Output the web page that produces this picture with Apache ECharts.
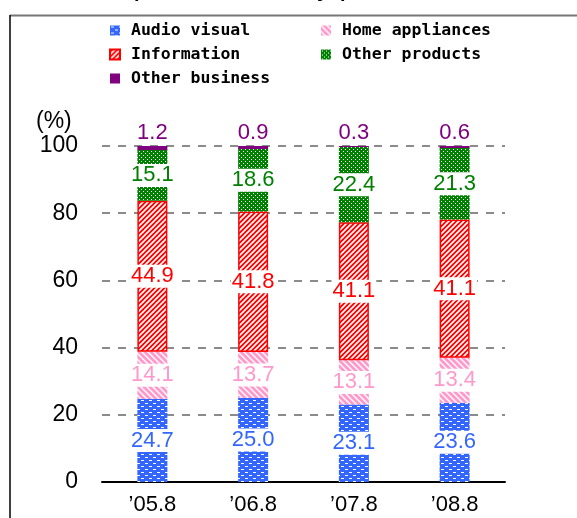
<!DOCTYPE html>
<html>
<head>
<meta charset="utf-8">
<script src="https://cdn.jsdelivr.net/npm/echarts@6/dist/echarts.min.js"></script>
<style>
  html, body { margin: 0; padding: 0; background: #fff; }
  #chart { width: 577px; height: 518px; }
</style>
</head>
<body>
<div id="chart"></div>
<script>
var categories = ["\u201905.8", "\u201906.8", "\u201907.8", "\u201908.8"];
var audioVisual = [24.7, 25.0, 23.1, 23.6];
var homeAppliances = [14.1, 13.7, 13.1, 13.4];
var information = [44.9, 41.8, 41.1, 41.1];
var otherProducts = [15.1, 18.6, 22.4, 21.3];
var otherBusiness = [1.2, 0.9, 0.3, 0.6];
var yTicks = [0, 20, 40, 60, 80, 100];

var numFont = "'Liberation Sans Narrow', 'Arial Narrow', 'Liberation Sans', sans-serif";

// small canvas tiles used as fill patterns
function makeTile(w, h, draw) {
    var c = document.createElement('canvas');
    c.width = w;
    c.height = h;
    draw(c.getContext('2d'));
    return c;
}

var bluePattern = makeTile(8, 6, function (g) {
    g.fillStyle = '#3366ff';
    g.fillRect(0, 0, 8, 6);
    g.fillStyle = '#ffffff';
    g.fillRect(1, 1, 3, 1);
    g.fillRect(5, 4, 3, 1);
});
var pinkPattern = makeTile(6, 6, function (g) {
    g.fillStyle = '#ff99cc';
    g.fillRect(0, 0, 6, 6);
    g.strokeStyle = '#ffffff';
    g.lineWidth = 1.4;
    g.beginPath();
    g.moveTo(-1, -1); g.lineTo(7, 7);
    g.moveTo(-4, 2); g.lineTo(4, 10);
    g.moveTo(2, -4); g.lineTo(10, 4);
    g.stroke();
});
var redPattern = makeTile(5, 5, function (g) {
    g.fillStyle = '#ff0000';
    g.fillRect(0, 0, 5, 5);
    g.strokeStyle = '#ffffff';
    g.lineWidth = 1.6;
    g.beginPath();
    g.moveTo(-1, 6); g.lineTo(6, -1);
    g.moveTo(-1, 1); g.lineTo(1, -1);
    g.moveTo(4, 6); g.lineTo(6, 4);
    g.stroke();
});
var greenPattern = makeTile(4, 4, function (g) {
    g.fillStyle = '#008000';
    g.fillRect(0, 0, 4, 4);
    g.fillStyle = '#ffffff';
    g.fillRect(1, 1, 1, 1);
    g.fillRect(3, 3, 1, 1);
});

function pat(img) {
    return { image: img, repeat: 'repeat' };
}

function segLabel(color, pos) {
    return {
        show: true,
        position: pos || 'inside',
        color: color,
        fontFamily: numFont,
        fontSize: 22,
        backgroundColor: pos ? 'transparent' : '#ffffff',
        padding: [1, 1, 0, 1],
        distance: 2,
        formatter: function (p) { return p.value.toFixed(1); }
    };
}

function bar(name, data, fill, labelColor, border, labelPos) {
    var s = {
        name: name,
        type: 'bar',
        stack: 'total',
        barWidth: 30,
        data: data,
        itemStyle: { color: fill },
        label: segLabel(labelColor, labelPos)
    };
    if (border) {
        s.itemStyle.borderColor = border;
        s.itemStyle.borderWidth = 1.5;
    }
    return s;
}

var myChart = echarts.init(document.getElementById('chart'));

var legendText = {
    fontFamily: "'DejaVu Sans Mono', monospace",
    fontWeight: 'bold',
    fontSize: 16.5,
    lineHeight: 17,
    color: '#000',
    padding: [0, 0, 0, 6]
};

myChart.setOption({
    animation: false,
    grid: { left: 102, right: 72, top: 146, bottom: 36 },
    legend: [
        {
            data: ['Audio visual', 'Information', 'Other business'],
            orient: 'vertical',
            left: 104, top: 17,
            icon: 'rect',
            itemWidth: 10, itemHeight: 10, itemGap: 7,
            selectedMode: false,
            textStyle: legendText
        },
        {
            data: ['Home appliances', 'Other products'],
            orient: 'vertical',
            left: 316, top: 17,
            icon: 'rect',
            itemWidth: 10, itemHeight: 10, itemGap: 7,
            selectedMode: false,
            textStyle: legendText
        }
    ],
    xAxis: {
        type: 'category',
        data: categories,
        axisLine: { lineStyle: { color: '#000', width: 2 } },
        axisTick: { show: false },
        axisLabel: {
            color: '#000',
            fontFamily: numFont,
            fontSize: 22,
            margin: 12
        }
    },
    yAxis: {
        type: 'value',
        min: yTicks[0],
        max: yTicks[yTicks.length - 1],
        interval: 20,
        axisLine: { show: false },
        axisTick: { show: false },
        axisLabel: {
            color: '#000',
            fontFamily: numFont,
            fontSize: 23,
            margin: 24
        },
        splitLine: {
            lineStyle: { color: '#666', type: [8, 8], width: 1.5 }
        }
    },
    graphic: [
        {
            type: 'text',
            left: 'center',
            top: -17,
            style: {
                text: 'Composition ratio by product line',
                font: 'bold 19px "DejaVu Sans Mono", monospace',
                fill: '#000'
            }
        },
        {
            type: 'line',
            shape: { x1: 10, y1: 15.5, x2: 577, y2: 15.5 },
            style: { stroke: '#777', lineWidth: 2 }
        },
        {
            type: 'line',
            shape: { x1: 10, y1: 15, x2: 10, y2: 518 },
            style: { stroke: '#000', lineWidth: 1.5 }
        },
        {
            type: 'text',
            x: 36, y: 110,
            style: {
                text: '(%)',
                font: '23px ' + numFont,
                fill: '#000'
            }
        }
    ],
    series: [
        bar('Audio visual', audioVisual, pat(bluePattern), '#3366ff'),
        bar('Home appliances', homeAppliances, pat(pinkPattern), '#ff99cc'),
        bar('Information', information, pat(redPattern), '#ff0000', '#ff0000'),
        bar('Other products', otherProducts, pat(greenPattern), '#008000'),
        bar('Other business', otherBusiness, '#800080', '#800080', null, 'top')
    ]
});

window.onresize = function () {
    myChart.resize();
};
</script>
</body>
</html>
